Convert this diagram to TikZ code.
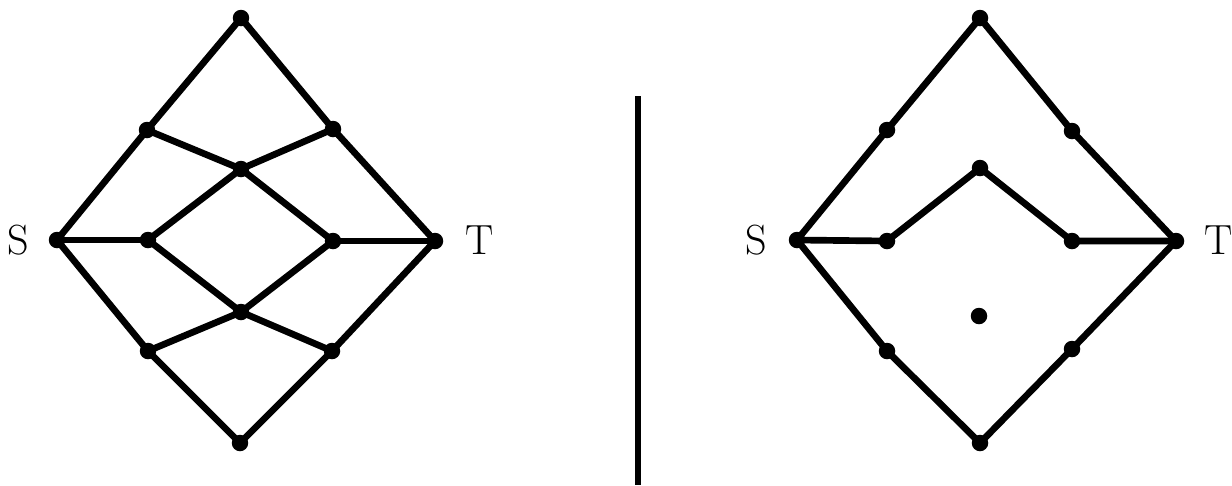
\documentclass[tikz,border=0pt]{standalone}
\usepackage{tikz}
\usetikzlibrary{positioning}
\tikzset{
  vertex/.style={
    circle, fill=black, draw=none,
    minimum size=0.33cm, inner sep=0pt
  },
  edge/.style={
    line width=3.8pt, line cap=round, line join=round, color=black
  },
  endlabel/.style={
    font=\fontsize{24}{28}\selectfont, inner sep=0pt
  },
  divider/.style={
    line width=3.4pt, color=black
  },
}

\begin{document}
\begin{tikzpicture}[x=0.02cm, y=-0.02cm]
  \useasboundingbox (0,0) rectangle (1232,485);

  % Left graph
  \node[vertex] (lTop) at (241,18) {};
  \node[vertex] (lUL) at (147,130) {};
  \node[vertex] (lUR) at (333,129) {};
  \node[vertex] (lCT) at (241,169) {};
  \node[vertex] (lS) at (57,240) {};
  \node[vertex] (lLM) at (148,240) {};
  \node[vertex] (lRM) at (333,241) {};
  \node[vertex] (lT) at (435,241) {};
  \node[vertex] (lCB) at (241,312) {};
  \node[vertex] (lLL) at (148,351) {};
  \node[vertex] (lLR) at (332,351) {};
  \node[vertex] (lBot) at (240,443) {};

  \node[endlabel] (lSl) at (18,240) {S};
  \node[endlabel] (lTl) at (480,240) {T};

  \draw[edge] (lS.center) -- (lUL.center) -- (lTop.center) -- (lUR.center) -- (lT.center);
  \draw[edge] (lS.center) -- (lLL.center) -- (lBot.center) -- (lLR.center) -- (lT.center);
  \draw[edge] (lS.center) -- (lLM.center);
  \draw[edge] (lRM.center) -- (lT.center);
  \draw[edge] (lUL.center) -- (lCT.center) -- (lUR.center);
  \draw[edge] (lLL.center) -- (lCB.center) -- (lLR.center);
  \draw[edge] (lLM.center) -- (lCT.center) -- (lRM.center) -- (lCB.center) -- cycle;

  % Divider
  \coordinate (sepTop) at (638,96);
  \coordinate (sepBot) at (638,485);
  \draw[divider] (sepTop) -- (sepBot);

  % Right graph
  \node[vertex] (rTop) at (980,18) {};
  \node[vertex] (rUL) at (887,130) {};
  \node[vertex] (rUR) at (1072,131) {};
  \node[vertex] (rCT) at (980,168) {};
  \node[vertex] (rS) at (797,240) {};
  \node[vertex] (rLM) at (887,241) {};
  \node[vertex] (rRM) at (1072,241) {};
  \node[vertex] (rT) at (1176,241) {};
  \node[vertex] (rIso) at (979,316) {};
  \node[vertex] (rLL) at (887,351) {};
  \node[vertex] (rLR) at (1072,349) {};
  \node[vertex] (rBot) at (980,443) {};

  \node[endlabel] (rSl) at (756,240) {S};
  \node[endlabel] (rTl) at (1219,240) {T};

  \draw[edge] (rS.center) -- (rUL.center) -- (rTop.center) -- (rUR.center) -- (rT.center);
  \draw[edge] (rS.center) -- (rLM.center) -- (rCT.center) -- (rRM.center) -- (rT.center);
  \draw[edge] (rS.center) -- (rLL.center) -- (rBot.center) -- (rLR.center) -- (rT.center);
\end{tikzpicture}
\end{document}
